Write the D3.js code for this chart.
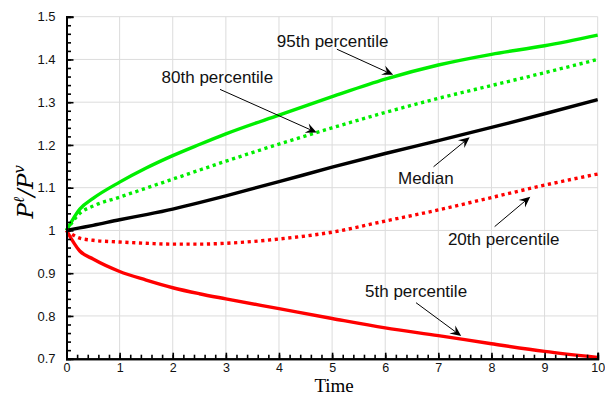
<!DOCTYPE html>
<html>
<head>
<meta charset="utf-8">
<script src="https://cdn.jsdelivr.net/npm/d3@7"></script>
<style>
  body { margin: 0; background: #fff; }
</style>
</head>
<body>
<script>
const width = 605, height = 398;
const margin = { top: 16.7, right: 7.3, bottom: 39.3, left: 66.5 };
const sans = "Liberation Sans, Arial, sans-serif";

// time grid and percentile curves
const time   = [0, 0.25, 0.5, 1, 1.5, 2, 2.5, 3, 4, 5, 6, 7, 8, 9, 10];
const p95    = [1.0, 1.050, 1.075, 1.113, 1.146, 1.175, 1.201, 1.226, 1.270, 1.313, 1.354, 1.387, 1.412, 1.432, 1.457];
const p80    = [1.0, 1.040, 1.057, 1.078, 1.099, 1.120, 1.141, 1.162, 1.202, 1.240, 1.276, 1.309, 1.339, 1.369, 1.400];
const median = [1.0, 1.006, 1.012, 1.025, 1.037, 1.050, 1.065, 1.081, 1.114, 1.148, 1.180, 1.210, 1.241, 1.273, 1.306];
const p20    = [1.0, 0.982, 0.977, 0.973, 0.970, 0.968, 0.968, 0.970, 0.980, 0.996, 1.022, 1.048, 1.077, 1.106, 1.132];
const p05    = [1.0, 0.952, 0.933, 0.904, 0.884, 0.866, 0.852, 0.840, 0.817, 0.794, 0.772, 0.754, 0.735, 0.717, 0.703];

const xTicks = d3.range(0, 11);
const yTicks = [0.7, 0.8, 0.9, 1, 1.1, 1.2, 1.3, 1.4, 1.5];

const series = [
  { values: p95,    color: "#00ee00", dash: null },
  { values: p80,    color: "#00ee00", dash: "3.2,3.6" },
  { values: median, color: "#000000", dash: null },
  { values: p20,    color: "#ff0000", dash: "3.2,3.6" },
  { values: p05,    color: "#ff0000", dash: null }
];

// labels: text anchor (t, value), arrow tail and tip in data units
const notes = [
  { label: "95th percentile", tx: 3.96, ty: 1.430, from: [5.09, 1.424], to: [6.15, 1.364] },
  { label: "80th percentile", tx: 1.79, ty: 1.344, from: [2.89, 1.330], to: [4.71, 1.229] },
  { label: "Median",          tx: 6.24, ty: 1.108, from: [6.91, 1.149], to: [7.59, 1.218] },
  { label: "20th percentile", tx: 7.18, ty: 0.966, from: [8.06, 1.009], to: [8.73, 1.079] },
  { label: "5th percentile",  tx: 5.62, ty: 0.845, from: [6.58, 0.831], to: [7.43, 0.753] }
];

const svg = d3.select("body").append("svg")
  .attr("width", width)
  .attr("height", height);

const x = d3.scaleLinear().domain([0, 10]).range([margin.left, width - margin.right]);
const y = d3.scaleLinear().domain([0.7, 1.5]).range([height - margin.bottom, margin.top]);

// grid
svg.append("g")
  .selectAll("line")
  .data(xTicks.slice(1))
  .join("line")
  .attr("x1", d => x(d)).attr("x2", d => x(d))
  .attr("y1", y(0.7)).attr("y2", y(1.5))
  .attr("stroke", "#dcdcdc").attr("stroke-width", 1);

svg.append("g")
  .selectAll("line")
  .data(yTicks.slice(1))
  .join("line")
  .attr("x1", x(0)).attr("x2", x(10))
  .attr("y1", d => y(d)).attr("y2", d => y(d))
  .attr("stroke", "#dcdcdc").attr("stroke-width", 1);

// lines
const line = d3.line()
  .x((d, i) => x(time[i]))
  .y(d => y(d))
  .curve(d3.curveMonotoneX);

svg.append("g")
  .selectAll("path")
  .data(series)
  .join("path")
  .attr("d", d => line(d.values))
  .attr("fill", "none")
  .attr("stroke", d => d.color)
  .attr("stroke-width", 3.4)
  .attr("stroke-dasharray", d => d.dash);

// axes, ticks pointing inward
const xAxis = d3.axisBottom(x).tickValues(xTicks).tickSize(-6).tickPadding(4).tickFormat(d3.format("d"));
const xMinor = d3.axisBottom(x).tickValues(d3.range(0, 10.01, 0.2)).tickSize(-4).tickFormat("");
const yAxis = d3.axisLeft(y).tickValues(yTicks).tickSize(-7).tickPadding(11).tickFormat(d => String(+d.toFixed(1)));
const yMinor = d3.axisLeft(y).tickValues(d3.range(0.7, 1.501, 0.02)).tickSize(-4.5).tickFormat("");

function styleAxis(g) {
  g.select(".domain").attr("stroke", "#000").attr("stroke-width", 2);
  g.selectAll(".tick line").attr("stroke", "#000").attr("stroke-width", 1.6);
  g.selectAll("text").attr("font-size", 13).attr("fill", "#111").attr("font-family", sans);
}

svg.append("g").attr("transform", `translate(0,${y(0.7)})`).call(xMinor).call(styleAxis);
svg.append("g").attr("transform", `translate(0,${y(0.7)})`).call(xAxis).call(styleAxis)
  .selectAll("text").attr("font-size", 12.5);
svg.append("g").attr("transform", `translate(${x(0)},0)`).call(yMinor).call(styleAxis);
svg.append("g").attr("transform", `translate(${x(0)},0)`).call(yAxis).call(styleAxis);

// axis labels
svg.append("text")
  .attr("x", x(5) + 2).attr("y", 392)
  .attr("text-anchor", "middle")
  .attr("font-family", "Liberation Serif, DejaVu Serif, serif")
  .attr("font-size", 19)
  .text("Time");

const ylab = svg.append("text")
  .attr("transform", `translate(33,${y(1.1) + 4}) rotate(-90)`)
  .attr("text-anchor", "middle")
  .attr("font-family", "DejaVu Serif, serif")
  .attr("font-style", "italic")
  .attr("font-size", 23);
ylab.append("tspan").text("P");
ylab.append("tspan").attr("dy", -9).attr("font-size", 15).text("ℓ");
ylab.append("tspan").attr("dy", 9).text("/P");
ylab.append("tspan").attr("dy", -9).attr("font-size", 15).text("v");

// annotations
const ann = svg.append("g");
notes.forEach(n => {
  ann.append("text")
    .attr("x", x(n.tx)).attr("y", y(n.ty))
    .attr("font-family", sans)
    .attr("font-size", 17)
    .attr("fill", "#111")
    .text(n.label);

  const x0 = x(n.from[0]), y0 = y(n.from[1]);
  const x1 = x(n.to[0]), y1 = y(n.to[1]);
  const ang = Math.atan2(y1 - y0, x1 - x0);
  const L = 11, W = 5, notch = 7;
  const ux = Math.cos(ang), uy = Math.sin(ang);
  const px = -uy, py = ux;
  ann.append("line")
    .attr("x1", x0).attr("y1", y0)
    .attr("x2", x1 - ux * notch).attr("y2", y1 - uy * notch)
    .attr("stroke", "#000").attr("stroke-width", 1);
  const head = [
    [x1, y1],
    [x1 - ux * L + px * W, y1 - uy * L + py * W],
    [x1 - ux * notch, y1 - uy * notch],
    [x1 - ux * L - px * W, y1 - uy * L - py * W]
  ];
  ann.append("path")
    .attr("d", "M" + head.map(p => p.join(",")).join("L") + "Z")
    .attr("fill", "#000");
});
</script>
</body>
</html>
